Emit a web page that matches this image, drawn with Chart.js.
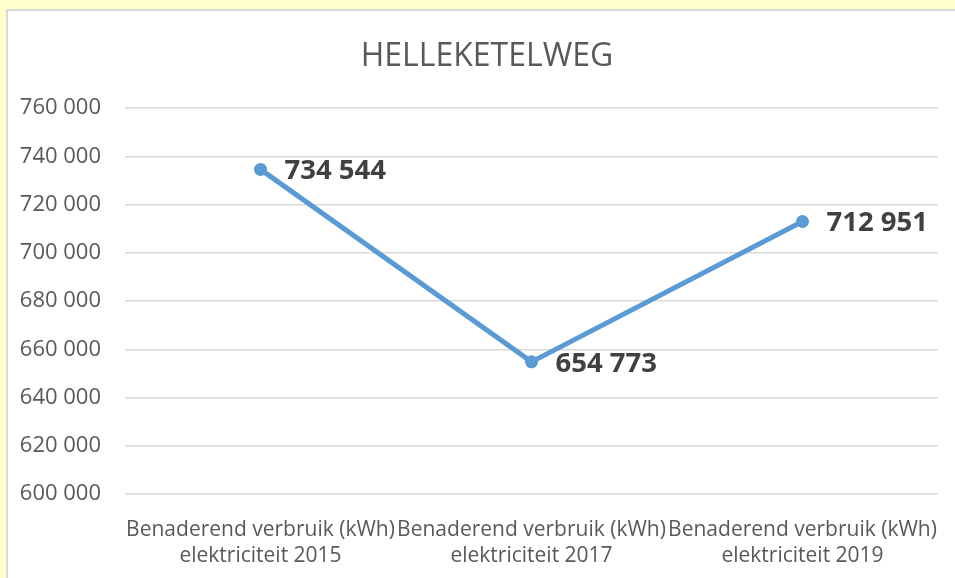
<!DOCTYPE html>
<html>
<head>
<meta charset="utf-8">
<script src="https://cdn.jsdelivr.net/npm/chart.js@4/dist/chart.umd.min.js"></script>
<style>
  html, body { margin: 0; padding: 0; background: #ffffcc; width: 955px; height: 578px; overflow: hidden; }
  #panel { position: absolute; left: 6px; top: 9px; width: 970px; height: 600px; background: #ffffff; border: 2px solid #d9d9d9; box-sizing: border-box; }
  #wrap { position: absolute; left: 0; top: 0; width: 955px; height: 578px; }
</style>
</head>
<body>
<div id="panel"></div>
<div id="wrap"><canvas id="c" width="955" height="578"></canvas></div>
<script>
const chartTitle = "HELLEKETELWEG";
const categories = [
  ["Benaderend verbruik (kWh)", "elektriciteit 2015"],
  ["Benaderend verbruik (kWh)", "elektriciteit 2017"],
  ["Benaderend verbruik (kWh)", "elektriciteit 2019"]
];
const values = [734544, 654773, 712951];
const yMin = 600000;
const yMax = 760000;
const yStep = 20000;

function fmt(v) {
  return String(Math.round(v)).replace(/\B(?=(\d{3})+(?!\d))/g, " ");
}

const titlePlugin = {
  id: "customTitle",
  afterDraw(chart) {
    const ctx = chart.ctx;
    ctx.save();
    ctx.font = "normal 32px 'Open Sans'";
    ctx.fillStyle = "#595959";
    ctx.textAlign = "center";
    ctx.textBaseline = "middle";
    ctx.fillText(chartTitle, 487, 57);
    ctx.restore();
  }
};

const dataLabels = {
  id: "dataLabels",
  afterDatasetsDraw(chart) {
    const ctx = chart.ctx;
    const meta = chart.getDatasetMeta(0);
    ctx.save();
    ctx.font = "bold 27.5px 'Open Sans'";
    ctx.fillStyle = "#404040";
    ctx.textAlign = "left";
    ctx.textBaseline = "middle";
    meta.data.forEach((pt, i) => {
      ctx.fillText(fmt(chart.data.datasets[0].data[i]), pt.x + 24, pt.y + 2);
    });
    ctx.restore();
  }
};

new Chart(document.getElementById("c"), {
  type: "line",
  data: {
    labels: categories,
    datasets: [{
      data: values,
      borderColor: "#5b9bd5",
      backgroundColor: "#5b9bd5",
      borderWidth: 5,
      pointRadius: 6.5,
      pointBackgroundColor: "#5b9bd5",
      pointBorderColor: "#5b9bd5",
      pointBorderWidth: 0,
      tension: 0,
      fill: false
    }]
  },
  options: {
    responsive: false,
    animation: false,
    devicePixelRatio: 1,
    layout: { padding: { left: 0, right: 17, top: 108, bottom: 0 } },
    plugins: {
      legend: { display: false },
      tooltip: { enabled: false },
      title: { display: false }
    },
    scales: {
      x: {
        offset: true,
        grid: { display: false },
        border: { display: false },
        ticks: {
          color: "#595959",
          font: { family: "'Open Sans'", size: 21, lineHeight: 1.25 },
          padding: 15,
          maxRotation: 0,
          autoSkip: false
        },
        afterFit(scale) { scale.height = 84; }
      },
      y: {
        min: yMin,
        max: yMax,
        grid: { color: "#d9d9d9", lineWidth: 1.5, drawTicks: false },
        border: { display: false },
        ticks: {
          stepSize: yStep,
          color: "#595959",
          font: { family: "'Open Sans'", size: 22 },
          padding: 24,
          callback: (v) => fmt(v)
        },
        afterFit(scale) { scale.width = 125; }
      }
    }
  },
  plugins: [dataLabels, titlePlugin]
});
</script>
</body>
</html>
